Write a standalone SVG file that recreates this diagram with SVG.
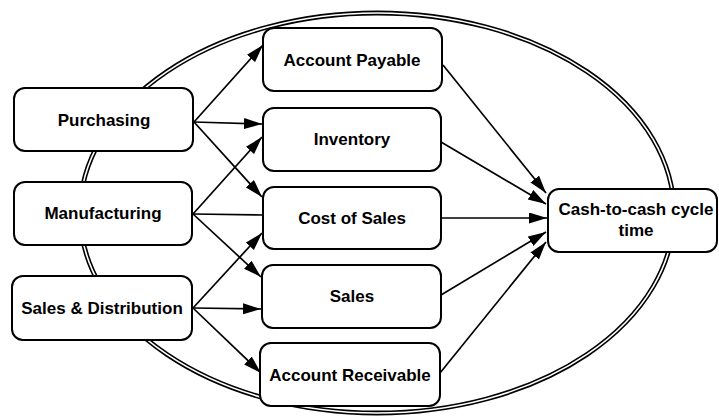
<svg xmlns="http://www.w3.org/2000/svg" width="719" height="416" viewBox="0 0 719 416">
<defs>
<marker id="arr" markerWidth="19" markerHeight="12" refX="18" refY="5.5" orient="auto" markerUnits="userSpaceOnUse">
<path d="M0,0 L18,5.5 L0,11 z" fill="#000"/>
</marker>
<style>
.box{fill:#fff;stroke:#000;stroke-width:2}
.t{font-family:"Liberation Sans",Arial,Helvetica,sans-serif;font-weight:bold;font-size:17px;text-anchor:middle;fill:#000}
.c{fill:none;stroke:#000;stroke-width:1.7}
.a{marker-end:url(#arr)}
</style>
</defs>
<rect width="719" height="416" fill="#fff"/>
<g id="boundary">
<ellipse cx="377" cy="213" rx="297" ry="200" fill="none" stroke="#000" stroke-width="4.8"/>
<ellipse cx="377" cy="213" rx="297" ry="200" fill="none" stroke="#fff" stroke-width="1.6"/>
</g>
<g id="connectors">
<line class="c a" x1="194" y1="122" x2="263" y2="45"/>
<line class="c a" x1="194" y1="122" x2="262" y2="124"/>
<line class="c a" x1="194" y1="122" x2="262" y2="197"/>
<line class="c a" x1="193" y1="214" x2="262" y2="137"/>
<line class="c" x1="193" y1="214" x2="263" y2="215"/>
<line class="c a" x1="193" y1="214" x2="261" y2="277"/>
<line class="c a" x1="193" y1="308" x2="262" y2="233"/>
<line class="c a" x1="193" y1="308" x2="261" y2="309"/>
<line class="c a" x1="193" y1="308" x2="261" y2="373"/>
<line class="c a" x1="443" y1="65" x2="546" y2="193"/>
<line class="c a" x1="441" y1="142" x2="546" y2="204"/>
<line class="c a" x1="441" y1="218" x2="547" y2="218"/>
<line class="c a" x1="441" y1="295" x2="546" y2="232"/>
<line class="c a" x1="440" y1="373" x2="546" y2="242"/>
</g>
<g id="purchasing">
<rect class="box" x="14" y="88" width="179" height="63" rx="11"/>
<text class="t" x="104" y="126">Purchasing</text>
</g>
<g id="manufacturing">
<rect class="box" x="14" y="182" width="178" height="63" rx="11"/>
<text class="t" x="103" y="219">Manufacturing</text>
</g>
<g id="sales-distribution">
<rect class="box" x="12" y="276" width="180" height="64" rx="11"/>
<text class="t" x="102" y="314">Sales &amp; Distribution</text>
</g>
<g id="account-payable">
<rect class="box" x="263" y="28" width="179" height="63" rx="11"/>
<text class="t" x="352" y="66">Account Payable</text>
</g>
<g id="inventory">
<rect class="box" x="263" y="108" width="178" height="63" rx="11"/>
<text class="t" x="352" y="145">Inventory</text>
</g>
<g id="cost-of-sales">
<rect class="box" x="263" y="187" width="178" height="62" rx="11"/>
<text class="t" x="352" y="224">Cost of Sales</text>
</g>
<g id="sales">
<rect class="box" x="262" y="265" width="179" height="63" rx="11"/>
<text class="t" x="352" y="302">Sales</text>
</g>
<g id="account-receivable">
<rect class="box" x="260" y="343" width="180" height="63" rx="11"/>
<text class="t" x="350" y="381">Account Receivable</text>
</g>
<g id="cash-to-cash">
<rect class="box" x="548" y="189" width="169" height="63" rx="11"/>
<text class="t" x="636" y="215">Cash-to-cash cycle</text>
<text class="t" x="636" y="236">time</text>
</g>
</svg>
